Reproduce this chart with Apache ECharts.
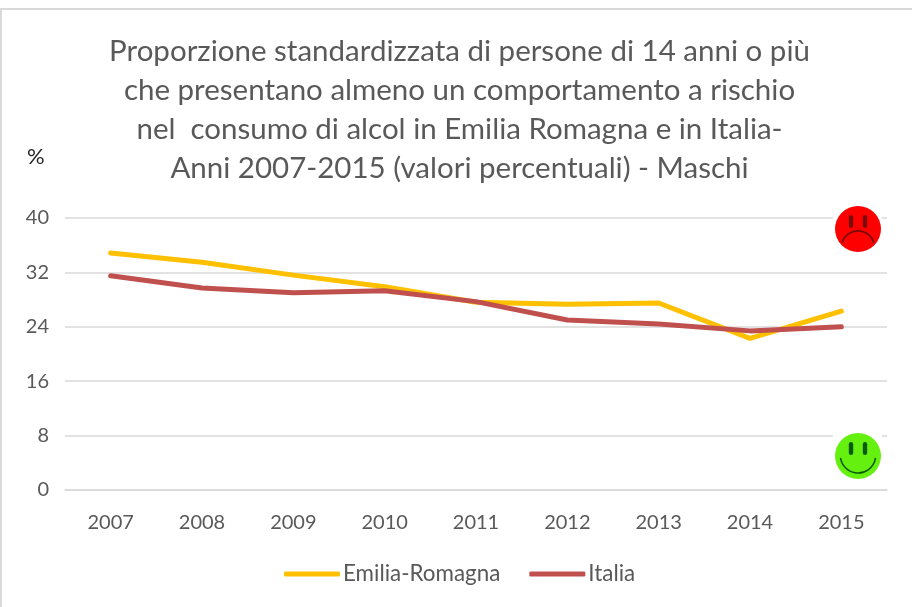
<!DOCTYPE html>
<html><head><meta charset="utf-8">
<style>html,body{margin:0;padding:0;background:#fff}#c{width:912px;height:607px}</style>
<script src="https://cdn.jsdelivr.net/npm/echarts@6/dist/echarts.min.js"></script>
</head><body><div id="c"></div>
<script>
const years = ['2007','2008','2009','2010','2011','2012','2013','2014','2015'];
const emiliaRomagna = [34.85,33.5,31.6,29.9,27.6,27.3,27.5,22.3,26.3];
const italia = [31.5,29.7,29.0,29.3,27.7,25.0,24.4,23.4,24.0];
const titleLines = ['Proporzione standardizzata di persone di 14 anni o più','che presentano almeno un comportamento a rischio','nel  consumo di alcol in Emilia Romagna e in Italia-','Anni 2007-2015 (valori percentuali) - Maschi'];
const font = 'Lato';
const chart = echarts.init(document.getElementById('c'), null, {renderer:'canvas'});
function eye(x, y, dark){
  return {type:'rect',z:52,shape:{x:x-2.2,y:y-6.5,width:4.4,height:13,r:2.2},style:{fill:dark}};
}
function face(cx, cy, color, dark, happy){
  const children = [
    {type:'rect',z:50,shape:{x:-25,y:-25,width:49,height:50},style:{fill:'#fff'}},
    {type:'circle',z:51,shape:{cx:0,cy:0,r:23},style:{fill:color}},
    eye(-7,-7.5,dark),
    eye(7,-7.5,dark),
    happy
     ? {type:'arc',z:52,shape:{cx:0,cy:-0.7,r:17.7,startAngle:0.15,endAngle:Math.PI-0.15},style:{stroke:dark,fill:null,lineWidth:1.5}}
     : {type:'arc',z:52,shape:{cx:0,cy:18.7,r:16.7,startAngle:Math.PI+0.285,endAngle:2*Math.PI-0.285},style:{stroke:dark,fill:null,lineWidth:1.8}}
  ];
  return {type:'group',x:cx,y:cy,children};
}
chart.setOption({
  animation:false,
  backgroundColor:'#fff',
  grid:{left:65,right:25,top:218,bottom:117,containLabel:false},
  title:{text:titleLines.join('\n'),left:454.5,textAlign:'center',top:27,
    textStyle:{fontFamily:font,fontSize:29.5,fontWeight:'normal',color:'#595959',lineHeight:39}},
  legend:{bottom:17,left:279,itemWidth:56,itemHeight:5,itemGap:29,icon:'roundRect',
    textStyle:{fontFamily:font,fontSize:22.4,color:'#595959',padding:[0,0,0,-2]},
    data:['Emilia-Romagna','Italia']},
  xAxis:{type:'category',data:years,boundaryGap:true,
    axisLine:{lineStyle:{color:'#d9d9d9',width:1.5}},axisTick:{show:false},
    axisLabel:{fontFamily:font,fontSize:20,color:'#595959',margin:23}},
  yAxis:{type:'value',min:0,max:40,interval:8,
    axisLine:{show:false},axisTick:{show:false},
    splitLine:{lineStyle:{color:'#d9d9d9',width:1.5}},
    axisLabel:{fontFamily:font,fontSize:20,color:'#595959',margin:16}},
  series:[
    {name:'Emilia-Romagna',type:'line',data:emiliaRomagna,showSymbol:false,symbol:'none',smooth:false,
     lineStyle:{color:'#ffc000',width:5,cap:'round'},itemStyle:{color:'#ffc000'}},
    {name:'Italia',type:'line',data:italia,showSymbol:false,symbol:'none',smooth:false,
     lineStyle:{color:'#c0504d',width:5,cap:'round'},itemStyle:{color:'#c0504d'}}
  ],
  graphic:[
    {type:'rect',shape:{x:1,y:9,width:920,height:610},style:{fill:null,stroke:'#d9d9d9',lineWidth:2},z:-1,silent:true},
    {type:'text',x:27,y:146,style:{text:'%',fontFamily:font,fontSize:22,fill:'#262626'}},
    face(858,229,'#ff0000','#7a0a0a',false),
    face(858,456,'#66f010','#0a5a0a',true)
  ]
});
</script></body></html>
